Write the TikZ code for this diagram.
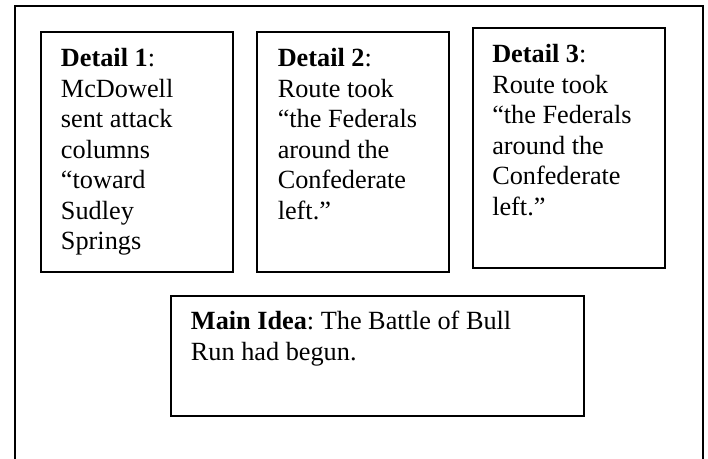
\documentclass[tikz,border=0pt]{standalone}
\usepackage{fontspec}
\setmainfont{Liberation Serif}
\frenchspacing
\begin{document}
\begin{tikzpicture}[x=0.75pt,y=-0.75pt,
  frame/.style={draw, line width=1.4pt, inner sep=0pt},
  txt/.style={inner sep=0pt, align=left, anchor=base west,
    font=\fontsize{19.7pt}{22.9pt}\selectfont}]
\useasboundingbox (0,0) rectangle (708,459);
\clip (0,0) rectangle (708,459);
\node[frame, minimum width=516pt, minimum height=400pt, anchor=north west] (outer) at (14,5) {};
\node[frame, minimum width=144pt, minimum height=180pt, anchor=north west] (b1) at (40,31) {};
\node[frame, minimum width=144pt, minimum height=180pt, anchor=north west] (b2) at (256,31) {};
\node[frame, minimum width=144pt, minimum height=180pt, anchor=north west] (b3) at (472,27) {};
\node[frame, minimum width=309.75pt, minimum height=90pt, anchor=north west] (bm) at (170,295) {};
% anchor base west = baseline of the last line
\node[txt] (t1) at (60.7,249.7) {\textbf{Detail 1}:\\McDowell\\sent attack\\columns\\“toward\\Sudley\\Springs};
\node[txt] (t2) at (277.5,219.2) {\textbf{Detail 2}:\\Route took\\“the Federals\\around the\\Confederate\\left.”};
\node[txt] (t3) at (492,215.2) {\textbf{Detail 3}:\\Route took\\“the Federals\\around the\\Confederate\\left.”};
\node[txt] (tm) at (190.7,360.5) {\textbf{Main Idea}: The Battle of Bull\\Run had begun.};
\end{tikzpicture}
\end{document}
